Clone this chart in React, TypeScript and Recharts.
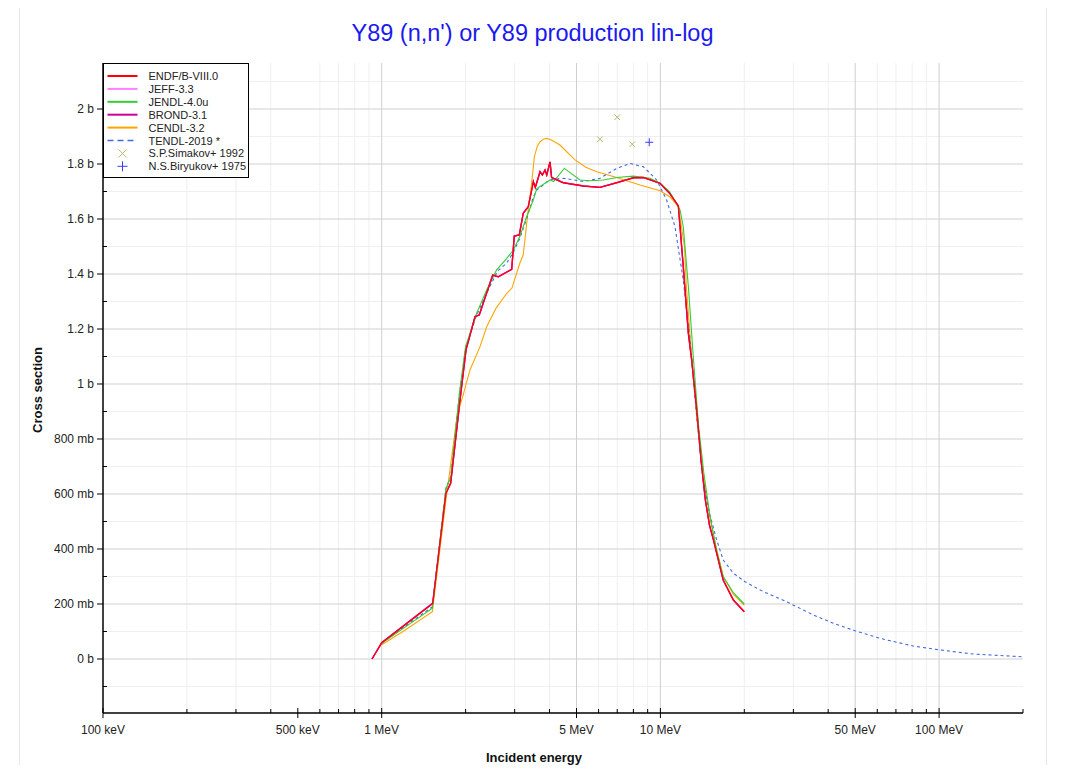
import React from 'react';
import { ComposedChart, Line, Scatter, XAxis, YAxis, CartesianGrid } from 'recharts';

// ---------- data (energy in MeV, cross section in barn) ----------
const endfE = [0.923, 1.0, 1.25, 1.524, 1.70, 1.768, 1.91, 2.007, 2.162, 2.239, 2.502, 2.62, 2.927, 2.99, 3.117, 3.22, 3.357, 3.5, 3.557, 3.7, 3.77, 3.855, 3.91, 4.017, 4.07, 4.48, 5.29, 6.07, 6.97, 8.0, 8.69, 9.97, 10.8, 11.6, 12.08, 12.6, 12.95, 13.5, 14.0, 14.5, 15.0, 15.5, 16.8, 18.27, 20.0];
const endfXS = [0, 0.059, 0.135, 0.2025, 0.6025, 0.639, 0.942, 1.124, 1.245, 1.251, 1.396, 1.39, 1.417, 1.538, 1.542, 1.621, 1.645, 1.736, 1.715, 1.772, 1.76, 1.778, 1.76, 1.808, 1.751, 1.732, 1.72, 1.715, 1.732, 1.75, 1.751, 1.73, 1.693, 1.647, 1.427, 1.184, 1.087, 0.905, 0.72, 0.578, 0.487, 0.433, 0.287, 0.2145, 0.172];

const jendlE = [1.0, 1.25, 1.52, 1.70, 1.77, 1.90, 2.0, 2.19, 2.38, 2.585, 2.81, 2.97, 3.13, 3.31, 3.5, 3.6, 4.02, 4.14, 4.52, 5.15, 5.59, 6.24, 6.97, 8.0, 9.18, 9.97, 10.8, 11.76, 12.08, 12.6, 13.12, 13.7, 14.3, 15.0, 15.9, 16.8, 18.3, 20.0];
const jendlXS = [0.057, 0.125, 0.185, 0.62, 0.66, 0.967, 1.136, 1.257, 1.342, 1.415, 1.457, 1.487, 1.536, 1.608, 1.669, 1.711, 1.742, 1.736, 1.784, 1.742, 1.739, 1.742, 1.751, 1.756, 1.748, 1.73, 1.699, 1.633, 1.572, 1.354, 1.099, 0.85, 0.68, 0.53, 0.396, 0.30, 0.24, 0.20];

const cendlE = [1.0, 1.2, 1.52, 1.70, 1.87, 1.953, 2.074, 2.253, 2.381, 2.57, 2.81, 2.93, 3.13, 3.22, 3.36, 3.44, 3.53, 3.62, 3.7, 3.8, 3.91, 4.05, 4.36, 4.94, 5.4, 5.91, 6.97, 8.45, 9.97, 10.8, 11.6, 12.2, 12.4, 12.9, 13.5, 14.2, 15.0, 15.9, 16.8, 18.3, 20.0];
const cendlXS = [0.052, 0.102, 0.172, 0.578, 0.893, 0.954, 1.051, 1.136, 1.208, 1.275, 1.33, 1.348, 1.439, 1.47, 1.64, 1.717, 1.827, 1.866, 1.881, 1.89, 1.893, 1.888, 1.869, 1.815, 1.788, 1.772, 1.751, 1.724, 1.703, 1.681, 1.645, 1.5, 1.35, 1.12, 0.88, 0.68, 0.52, 0.40, 0.30, 0.235, 0.195];

const tendlE = [1.0, 1.25, 1.52, 1.70, 1.77, 1.90, 2.0, 2.19, 2.38, 2.6, 2.81, 2.97, 3.13, 3.31, 3.5, 3.6, 4.0, 4.5, 5.3, 6.07, 6.97, 7.78, 8.69, 9.7, 10.53, 11.28, 12.08, 12.77, 13.5, 14.2, 15.0, 15.92, 16.8, 18.27, 20.1, 23.4, 28.4, 35.4, 41.7, 49.9, 61.4, 80.8, 100.8, 132.7, 200];
const tendlXS = [0.057, 0.128, 0.19, 0.62, 0.665, 0.96, 1.13, 1.25, 1.33, 1.41, 1.44, 1.48, 1.53, 1.6, 1.68, 1.705, 1.742, 1.748, 1.736, 1.748, 1.784, 1.802, 1.79, 1.742, 1.669, 1.572, 1.378, 1.16, 0.88, 0.66, 0.53, 0.433, 0.36, 0.312, 0.281, 0.245, 0.208, 0.16, 0.13, 0.103, 0.075, 0.047, 0.033, 0.018, 0.008];

const simakovE = [6.07, 7.0, 7.93];
const simakovXS = [1.89, 1.97, 1.872];
const biryukovE = [9.12];
const biryukovXS = [1.879];

// ---------- ticks ----------
const xTicks = [0.1, 0.2, 0.3, 0.4, 0.5, 0.6, 0.7, 0.8, 0.9, 1, 2, 3, 4, 5, 6, 7, 8, 9, 10, 20, 30, 40, 50, 60, 70, 80, 90, 100, 200];
const xLabelVals = [0.1, 0.5, 1, 5, 10, 50, 100];
const xLabelText = ['100 keV', '500 keV', '1 MeV', '5 MeV', '10 MeV', '50 MeV', '100 MeV'];
const xMajorGrid = [1, 5, 10, 50, 100];
const xMinorGrid = [0.2, 0.3, 0.4, 0.6, 0.7, 0.8, 0.9, 2, 3, 4, 6, 7, 8, 9, 20, 30, 40, 60, 70, 80, 90];

const yTicks = [-0.1, 0, 0.1, 0.2, 0.3, 0.4, 0.5, 0.6, 0.7, 0.8, 0.9, 1.0, 1.1, 1.2, 1.3, 1.4, 1.5, 1.6, 1.7, 1.8, 1.9, 2.0, 2.1];
const yLabelVals = [0, 0.2, 0.4, 0.6, 0.8, 1.0, 1.2, 1.4, 1.6, 1.8, 2.0];
const yLabelText = ['0 b', '200 mb', '400 mb', '600 mb', '800 mb', '1 b', '1.2 b', '1.4 b', '1.6 b', '1.8 b', '2 b'];
const yMajorGrid = [0, 0.2, 0.4, 0.6, 0.8, 1.0, 1.2, 1.4, 1.6, 1.8, 2.0];
const yMinorGrid = [-0.1, 0.1, 0.3, 0.5, 0.7, 0.9, 1.1, 1.3, 1.5, 1.7, 1.9, 2.1];

const legendItems = [
  { name: 'ENDF/B-VIII.0', color: '#ff0000', kind: 'line' },
  { name: 'JEFF-3.3', color: '#ff80ff', kind: 'line' },
  { name: 'JENDL-4.0u', color: '#33cc33', kind: 'line' },
  { name: 'BROND-3.1', color: '#cc0099', kind: 'line' },
  { name: 'CENDL-3.2', color: '#ffa500', kind: 'line' },
  { name: 'TENDL-2019 *', color: '#4169e1', kind: 'dash' },
  { name: 'S.P.Simakov+ 1992', color: '#b8b86a', kind: 'cross' },
  { name: 'N.S.Biryukov+ 1975', color: '#3b3bff', kind: 'plus' },
];

const pts = (e: number[], s: number[]) => e.map((x, i) => ({ x, y: s[i] }));
const endf = pts(endfE, endfXS);
const jendl = pts(jendlE, jendlXS);
const cendl = pts(cendlE, cendlXS);
const tendl = pts(tendlE, tendlXS);
const simakov = pts(simakovE, simakovXS);
const biryukov = pts(biryukovE, biryukovXS);

const FONT = '"Liberation Sans", Arial, Helvetica, sans-serif';
const near = (a: number, b: number) => Math.abs(a - b) < 1e-6 * Math.max(1, Math.abs(b));
const xLabel = (v: number) => {
  const i = xLabelVals.findIndex((t) => near(v, t));
  return i >= 0 ? xLabelText[i] : null;
};
const yLabel = (v: number) => {
  const i = yLabelVals.findIndex((t) => Math.abs(v - t) < 1e-6);
  return i >= 0 ? yLabelText[i] : null;
};

const BottomTick = (p: any) => {
  const { x, y, payload } = p;
  const lab = xLabel(payload.value);
  return (
    <g>
      <line x1={x} x2={x} y1={y - (lab ? 5 : 4)} y2={y + (lab ? 5 : 0)} stroke="#000" strokeWidth={1} />
      {lab && (
        <text x={x} y={y + 21} textAnchor="middle" fontSize={12} fontFamily={FONT} fill="#222">
          {lab}
        </text>
      )}
    </g>
  );
};
const TopTick = (p: any) => {
  const { x, y, payload } = p;
  const lab = xLabel(payload.value);
  return <line x1={x} x2={x} y1={y} y2={y + (lab ? 5 : 4)} stroke="#000" strokeWidth={1} />;
};
const LeftTick = (p: any) => {
  const { x, y, payload } = p;
  const lab = yLabel(payload.value);
  return (
    <g>
      <line x1={lab ? x - 6 : x} x2={lab ? x : x + 4} y1={y} y2={y} stroke="#000" strokeWidth={1} />
      {lab && (
        <text x={x - 9} y={y + 4} textAnchor="end" fontSize={12} fontFamily={FONT} fill="#222">
          {lab}
        </text>
      )}
    </g>
  );
};
const RightTick = (p: any) => {
  const { x, y } = p;
  return <line x1={x - 5} x2={x} y1={y} y2={y} stroke="#000" strokeWidth={1} />;
};

const CrossShape = (p: any) => {
  const { cx, cy } = p;
  const r = 2.8;
  return (
    <path d={`M${cx - r},${cy - r}L${cx + r},${cy + r}M${cx - r},${cy + r}L${cx + r},${cy - r}`} stroke="#b8b86a" strokeWidth={1} fill="none" />
  );
};
const PlusShape = (p: any) => {
  const { cx, cy } = p;
  const r = 4;
  return <path d={`M${cx - r},${cy}L${cx + r},${cy}M${cx},${cy - r}L${cx},${cy + r}`} stroke="#3b3bff" strokeWidth={1} fill="none" />;
};

const X_DOMAIN: [number, number] = [0.1, 200];
const Y_DOMAIN: [number, number] = [-0.1964, 2.1673];

export default function App() {
  return (
    <div style={{ position: 'relative', width: 1071, height: 773, margin: -8, overflow: 'hidden', background: '#fff' }}>
      <div style={{ position: 'absolute', left: 19, top: 4, width: 1026, height: 800, border: '1px solid #e8e8e8' }} />
      <div style={{ position: 'absolute', left: 0, top: 0 }}>
        <ComposedChart width={1071} height={773} margin={{ top: 63, right: 48, bottom: 0, left: 0 }}>
          <CartesianGrid horizontalValues={yMinorGrid} verticalValues={xMinorGrid} stroke="#efefef" strokeWidth={1} />
          <CartesianGrid horizontalValues={yMajorGrid} verticalValues={xMajorGrid} stroke="#d0d0d0" strokeWidth={1} />
          <XAxis
            dataKey="x"
            type="number"
            scale="log"
            domain={X_DOMAIN}
            allowDataOverflow
            ticks={xTicks}
            interval={0}
            tick={<BottomTick />}
            tickLine={false}
            tickSize={0}
            tickMargin={0}
            height={60}
            axisLine={{ stroke: '#000', strokeWidth: 1.5 }}
          />
          <XAxis
            xAxisId="top"
            orientation="top"
            dataKey="x"
            type="number"
            scale="log"
            domain={X_DOMAIN}
            allowDataOverflow
            ticks={xTicks}
            interval={0}
            tick={<TopTick />}
            tickLine={false}
            tickSize={0}
            tickMargin={0}
            height={0}
            axisLine={{ stroke: '#000', strokeWidth: 1.5 }}
          />
          <YAxis
            type="number"
            domain={Y_DOMAIN}
            allowDataOverflow
            ticks={yTicks}
            interval={0}
            tick={<LeftTick />}
            tickLine={false}
            tickSize={0}
            tickMargin={0}
            width={103}
            axisLine={{ stroke: '#000', strokeWidth: 1.5 }}
          />
          <YAxis
            yAxisId="right"
            orientation="right"
            type="number"
            domain={Y_DOMAIN}
            allowDataOverflow
            ticks={yTicks}
            interval={0}
            tick={<RightTick />}
            tickLine={false}
            tickSize={0}
            tickMargin={0}
            width={0}
            axisLine={{ stroke: '#000', strokeWidth: 1.5 }}
          />
          <Line data={endf} dataKey="y" type="linear" stroke="#ff80ff" strokeWidth={1.2} dot={false} isAnimationActive={false} />
          <Line data={endf} dataKey="y" type="linear" stroke="#cc0099" strokeWidth={1.3} dot={false} isAnimationActive={false} />
          <Line data={cendl} dataKey="y" type="linear" stroke="#ffa500" strokeWidth={1.1} dot={false} isAnimationActive={false} />
          <Line data={tendl} dataKey="y" type="linear" stroke="#4169e1" strokeWidth={1.1} strokeDasharray="3 3" dot={false} isAnimationActive={false} />
          <Line data={jendl} dataKey="y" type="linear" stroke="#33cc33" strokeWidth={1.1} dot={false} isAnimationActive={false} />
          <Line data={endf} dataKey="y" type="linear" stroke="#f8001e" strokeWidth={1.4} dot={false} isAnimationActive={false} />
          <Scatter data={simakov} dataKey="y" shape={<CrossShape />} isAnimationActive={false} />
          <Scatter data={biryukov} dataKey="y" shape={<PlusShape />} isAnimationActive={false} />
        </ComposedChart>
      </div>
      <svg width={1071} height={773} style={{ position: 'absolute', left: 0, top: 0, pointerEvents: 'none' }}>
        <text x={532.5} y={41} textAnchor="middle" fontSize={23.5} fontFamily={FONT} fill="#1a1aee">
          Y89 (n,n') or Y89 production lin-log
        </text>
        <text x={534} y={762} textAnchor="middle" fontSize={13} fontWeight="bold" fontFamily={FONT} fill="#111">
          Incident energy
        </text>
        <text x={42} y={390} textAnchor="middle" fontSize={13} fontWeight="bold" fontFamily={FONT} fill="#111" transform="rotate(-90 42 390)">
          Cross section
        </text>
        <g transform="translate(103.5,63.5)">
          <rect x={0} y={0} width={145} height={114} fill="#fff" stroke="#000" strokeWidth={1} />
          {legendItems.map((it, i) => {
            const cy = 12.5 + i * 12.9;
            let mark: React.ReactNode = null;
            if (it.kind === 'line') mark = <line x1={4} x2={34} y1={cy} y2={cy} stroke={it.color} strokeWidth={2} />;
            else if (it.kind === 'dash') mark = <line x1={4} x2={34} y1={cy} y2={cy} stroke={it.color} strokeWidth={1.5} strokeDasharray="6 4" />;
            else if (it.kind === 'cross')
              mark = <path d={`M${15},${cy - 4}L${23},${cy + 4}M${15},${cy + 4}L${23},${cy - 4}`} stroke={it.color} strokeWidth={1} />;
            else mark = <path d={`M${14},${cy}L${24},${cy}M${19},${cy - 5}L${19},${cy + 5}`} stroke={it.color} strokeWidth={1} />;
            return (
              <g key={it.name}>
                {mark}
                <text x={45} y={cy + 4} fontSize={11} fontFamily={FONT} fill="#222">
                  {it.name}
                </text>
              </g>
            );
          })}
        </g>
      </svg>
    </div>
  );
}
